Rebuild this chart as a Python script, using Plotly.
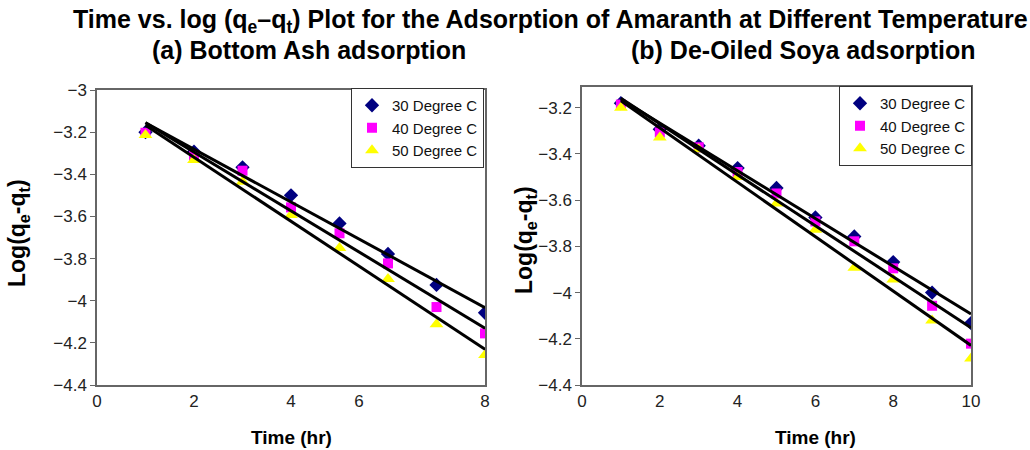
import numpy as np
import plotly.graph_objects as go

# ---------------- data ----------------
time_a = [1, 2, 3, 4, 5, 6, 7, 8]
a_30 = [-3.20, -3.293, -3.367, -3.500, -3.633, -3.778, -3.925, -4.057]
a_40 = [-3.203, -3.313, -3.383, -3.557, -3.680, -3.823, -4.030, -4.155]
a_50 = [-3.214, -3.332, -3.435, -3.593, -3.750, -3.897, -4.112, -4.258]

time_b = [1, 2, 3, 4, 5, 6, 7, 8, 9, 10]
b_30 = [-3.180, -3.293, -3.364, -3.461, -3.547, -3.675, -3.757, -3.868, -4.000, -4.132]
b_40 = [-3.186, -3.307, -3.371, -3.478, -3.571, -3.692, -3.778, -3.895, -4.057, -4.221]
b_50 = [-3.200, -3.329, -3.379, -3.500, -3.614, -3.728, -3.892, -3.943, -4.121, -4.285]

series_names = ["30 Degree C", "40 Degree C", "50 Degree C"]
a_xtick_vals = [0, 2, 4, 5.4, 8]
a_xtick_text = ["0", "2", "4", "6", "8"]
b_xtick_vals = [0, 2, 4, 6, 8, 10]
a_ytick_vals = [-3, -3.2, -3.4, -3.6, -3.8, -4, -4.2, -4.4]
b_ytick_vals = [-3.2, -3.4, -3.6, -3.8, -4, -4.2, -4.4]

title_text = "Time vs. log (q<sub>e</sub>\u2013q<sub>t</sub>) Plot for the Adsorption of Amaranth at Different Temperature"
sub_a = "(a) Bottom Ash adsorption"
sub_b = "(b) De-Oiled Soya adsorption"

# ---------------- styles ----------------
W, H = 1030, 450
marker_styles = [
    dict(symbol="diamond", color="#000080", size=11),
    dict(symbol="square", color="#FF00FF", size=10),
    dict(symbol="triangle-up", color="#FFFF00", size=12),
]
FONT = "Liberation Sans, Arial, sans-serif"

fig = go.Figure()

def add_panel(xs, ys_list, xaxis, yaxis, legend):
    for name, ys, ms in zip(series_names, ys_list, marker_styles):
        fig.add_trace(go.Scatter(
            x=xs, y=ys, mode="markers", name=name,
            marker=dict(symbol=ms["symbol"], color=ms["color"], size=ms["size"],
                        line=dict(width=0)),
            xaxis=xaxis, yaxis=yaxis, legend=legend, showlegend=True))
    for ys in ys_list:
        k, b = np.polyfit(xs, ys, 1)
        xl = [xs[0], xs[-1]]
        fig.add_trace(go.Scatter(
            x=xl, y=[k * v + b for v in xl], mode="lines",
            line=dict(color="black", width=3),
            xaxis=xaxis, yaxis=yaxis, showlegend=False, hoverinfo="skip"))

add_panel(time_a, [a_30, a_40, a_50], "x", "y", "legend")
add_panel(time_b, [b_30, b_40, b_50], "x2", "y2", "legend2")

def px_x(p):
    return p / W

def px_y(p):
    return 1 - p / H

tickfont = dict(family=FONT, size=17, color="#222")
axis_common = dict(showgrid=False, zeroline=False, showline=True, linecolor="#666",
                   linewidth=1.5, mirror=True, tickfont=tickfont, automargin=False)

legend_common = dict(xanchor="right", yanchor="top", bgcolor="white",
                     bordercolor="#333", borderwidth=1,
                     font=dict(family=FONT, size=15, color="#111"),
                     tracegroupgap=0, itemsizing="trace")

fig.update_layout(
    width=W, height=H,
    margin=dict(l=0, r=0, t=0, b=0, pad=0, autoexpand=False),
    paper_bgcolor="white", plot_bgcolor="white",
    xaxis=dict(domain=[px_x(97), px_x(485)], range=[0, 8], anchor="y",
               tickvals=a_xtick_vals, ticktext=a_xtick_text, ticks="", **axis_common),
    yaxis=dict(domain=[px_y(385), px_y(90)], range=[-4.4, -3.0], anchor="x",
               tickvals=a_ytick_vals, ticks="outside", ticklen=5, tickcolor="#666",
               **axis_common),
    xaxis2=dict(domain=[px_x(582), px_x(971)], range=[0, 10], anchor="y2",
                tickvals=b_xtick_vals, ticks="", **axis_common),
    yaxis2=dict(domain=[px_y(385), px_y(87)], range=[-4.4, -3.11], anchor="x2",
                tickvals=b_ytick_vals, ticks="outside", ticklen=5, tickcolor="#666",
                **axis_common),
    legend=dict(x=px_x(484), y=px_y(88), **legend_common),
    legend2=dict(x=px_x(972), y=px_y(86), **legend_common),
    showlegend=True,
)

annotations = [
    dict(text="<b>" + title_text + "</b>", x=px_x(550), y=px_y(21), font=dict(family=FONT, size=25, color="black")),
    dict(text="<b>" + sub_a + "</b>", x=px_x(309), y=px_y(50), font=dict(family=FONT, size=25, color="black")),
    dict(text="<b>" + sub_b + "</b>", x=px_x(803), y=px_y(50), font=dict(family=FONT, size=25, color="black")),
    dict(text="<b>Time (hr)</b>", x=px_x(291), y=px_y(437), font=dict(family=FONT, size=19, color="black")),
    dict(text="<b>Time (hr)</b>", x=px_x(815), y=px_y(437), font=dict(family=FONT, size=19, color="black")),
    dict(text="<b>Log(q<sub>e</sub>-q<sub>t</sub>)</b>", x=px_x(18), y=px_y(233), textangle=-90,
         font=dict(family=FONT, size=23, color="black")),
    dict(text="<b>Log(q<sub>e</sub>-q<sub>t</sub>)</b>", x=px_x(525), y=px_y(240), textangle=-90,
         font=dict(family=FONT, size=23, color="black")),
]
for a in annotations:
    a.update(xref="paper", yref="paper", showarrow=False, xanchor="center", yanchor="middle")
fig.update_layout(annotations=annotations)

# remove the default 8px page margin so the figure fills the window exactly
fig.write_html("out.html", config={"displayModeBar": False},
               post_script="document.body.style.margin='0px';")
